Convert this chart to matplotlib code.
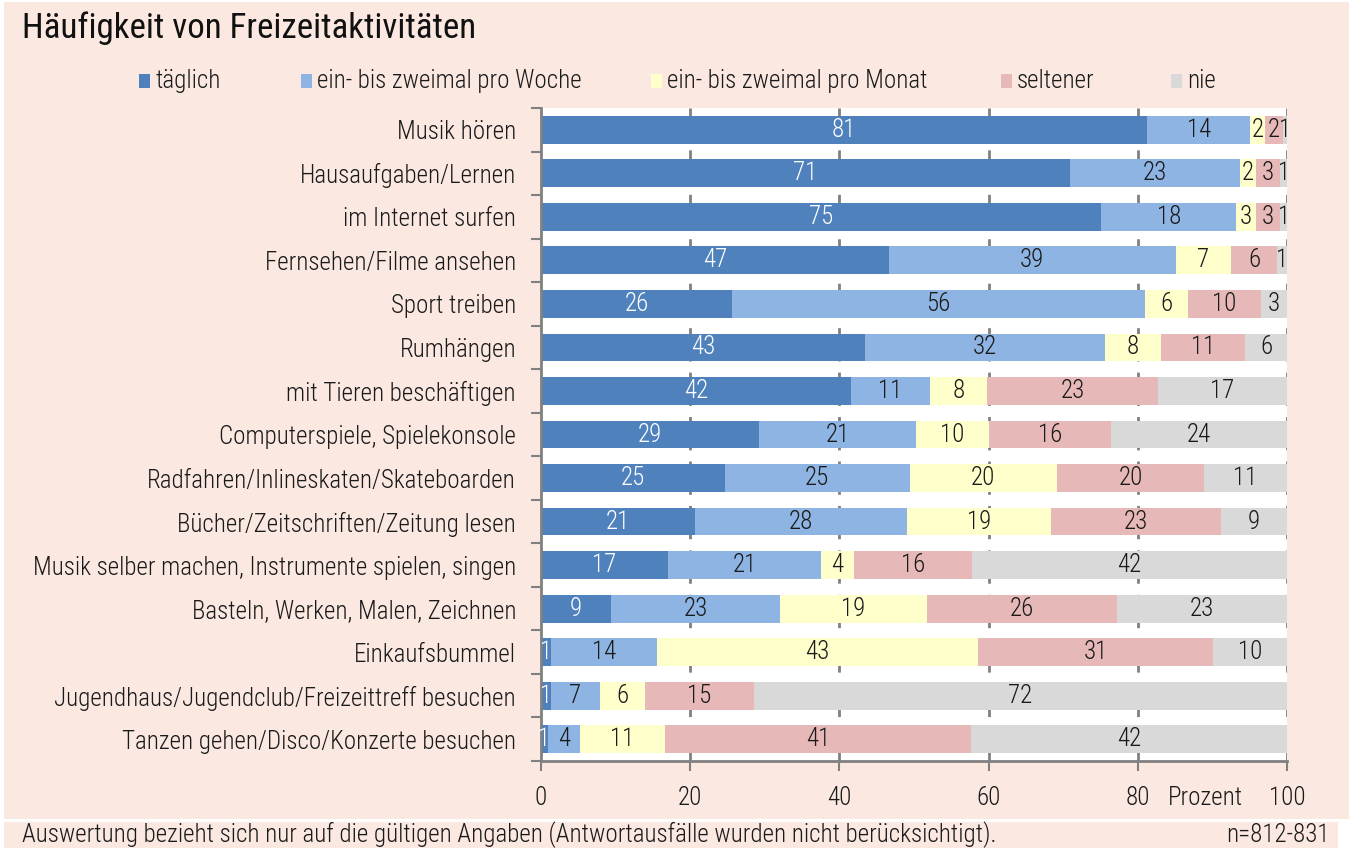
import matplotlib
matplotlib.use("Agg")
import matplotlib.pyplot as plt
from matplotlib.patches import Rectangle
import numpy as np

plt.rcParams['font.family'] = ['Roboto Condensed', 'Open Sans', 'DejaVu Sans']
plt.rcParams['font.weight'] = 'light'

categories = [
    "Musik hören", "Hausaufgaben/Lernen", "im Internet surfen", "Fernsehen/Filme ansehen",
    "Sport treiben", "Rumhängen", "mit Tieren beschäftigen", "Computerspiele, Spielekonsole",
    "Radfahren/Inlineskaten/Skateboarden", "Bücher/Zeitschriften/Zeitung lesen",
    "Musik selber machen, Instrumente spielen, singen", "Basteln, Werken, Malen, Zeichnen",
    "Einkaufsbummel", "Jugendhaus/Jugendclub/Freizeittreff besuchen",
    "Tanzen gehen/Disco/Konzerte besuchen",
]
series_names = ["täglich", "ein- bis zweimal pro Woche", "ein- bis zweimal pro Monat", "seltener", "nie"]

taeglich = [81.3, 70.9, 75.1, 46.6, 25.6, 43.4, 41.5, 29.2, 24.6, 20.7, 17.0, 9.4, 1.3, 1.3, 0.9]
woche    = [13.8, 22.8, 18.1, 38.5, 55.4, 32.2, 10.7, 21.1, 24.8, 28.4, 20.6, 22.7, 14.2, 6.6, 4.3]
monat    = [2.0, 2.1, 2.6, 7.4, 5.7, 7.5, 7.6, 9.7, 19.8, 19.2, 4.3, 19.6, 43.1, 6.0, 11.4]
seltener = [2.3, 3.3, 3.3, 6.2, 9.8, 11.3, 22.9, 16.4, 19.7, 22.9, 15.9, 25.5, 31.5, 14.6, 41.0]
nie      = [0.7, 0.9, 0.9, 1.3, 3.5, 5.6, 17.3, 23.6, 11.1, 8.8, 42.2, 22.8, 9.9, 71.5, 42.4]

labels_taeglich = [81, 71, 75, 47, 26, 43, 42, 29, 25, 21, 17, 9, 1, 1, 1]
labels_woche    = [14, 23, 18, 39, 56, 32, 11, 21, 25, 28, 21, 23, 14, 7, 4]
labels_monat    = [2, 2, 3, 7, 6, 8, 8, 10, 20, 19, 4, 19, 43, 6, 11]
labels_seltener = [2, 3, 3, 6, 10, 11, 23, 16, 20, 23, 16, 26, 31, 15, 41]
labels_nie      = [1, 1, 1, 1, 3, 6, 17, 24, 11, 9, 42, 23, 10, 72, 42]

colors = ["#4F81BD", "#8EB4E3", "#FFFFCC", "#E6B9B8", "#D9D9D9"]
text_colors = ["white", "#1a1a1a", "#1a1a1a", "#1a1a1a", "#1a1a1a"]
BG = "#FAE8E1"
FS = 18

W, H = 1349, 848
fig = plt.figure(figsize=(W / 100, H / 100), dpi=100)
fig.patch.set_facecolor("white")

def px_rect(x0, y0, x1, y1, color):
    fig.add_artist(Rectangle((x0 / W, 1 - y1 / H), (x1 - x0) / W, (y1 - y0) / H,
                             transform=fig.transFigure, facecolor=color, edgecolor="none", zorder=-10))

px_rect(4, 2, W, 819, BG)
px_rect(4, 822, 1338, H, BG)

ax = fig.add_axes([541 / W, 1 - 761 / H, (1287 - 541) / W, (761 - 108) / H])
ax.set_facecolor("white")

data = [taeglich, woche, monat, seltener, nie]
labs = [labels_taeglich, labels_woche, labels_monat, labels_seltener, labels_nie]
n = len(categories)
y = np.arange(n)
left = np.zeros(n)
for vals, lab, col, tcol, name in zip(data, labs, colors, text_colors, series_names):
    vals = np.array(vals)
    ax.barh(y, vals, left=left, height=0.64, color=col, edgecolor="none", zorder=2, label=name)
    for yi, (l, v, t) in enumerate(zip(left, vals, lab)):
        ax.text(l + v / 2, yi, str(t), ha="center", va="center", color=tcol, fontsize=FS, zorder=3)
    left = left + vals

ax.set_xlim(0, 100)
ax.set_ylim(n - 0.5, -0.5)
ax.set_xticks([0, 20, 40, 60, 80, 100])
ax.set_xticklabels(["0", "20", "40", "60", "80", "100"], fontsize=FS, color="#1a1a1a")
ax.set_yticks(y)
ax.set_yticklabels(categories, fontsize=FS, color="#1a1a1a")
ax.tick_params(axis="y", which="major", length=0, pad=18)
ax.set_yticks(np.arange(-0.5, n, 1.0), minor=True)
ax.tick_params(axis="y", which="minor", length=7, width=1.5, color="#808080", direction="out")
ax.tick_params(axis="x", which="major", length=7, width=1.5, color="#808080", direction="out", pad=11)
ax.annotate("Prozent", xy=(89.0, 0), xycoords=("data", "axes fraction"), xytext=(0, -18),
            textcoords="offset points", ha="center", va="top", fontsize=FS, color="#1a1a1a")

for xv in [20, 40, 60, 80, 100]:
    ax.axvline(xv, color="#808080", linestyle=(0, (4, 4)), linewidth=2, zorder=1)

for s in ["top", "right"]:
    ax.spines[s].set_visible(False)
for s in ["left", "bottom"]:
    ax.spines[s].set_color("#808080")
    ax.spines[s].set_linewidth(2)

# title
fig.text(22 / W, 1 - 38 / H, "Häufigkeit von Freizeitaktivitäten", fontsize=25.2, color="#111111",
         ha="left", va="baseline", fontweight="normal")

# legend (manual)
leg_x = [139, 301, 651, 1001, 1171]
for xp, col, name in zip(leg_x, colors, series_names):
    px_rect(xp, 74, xp + 11, 88, col)
    fig.text((xp + 16) / W, 1 - 81 / H, name, fontsize=FS, color="#1a1a1a", ha="left", va="center")

# footnote
fig.text(22 / W, 1 - 835 / H,
         "Auswertung bezieht sich nur auf die gültigen Angaben (Antwortausfälle wurden nicht berücksichtigt).",
         fontsize=FS, color="#1a1a1a", ha="left", va="center")
fig.text(1330 / W, 1 - 835 / H, "n=812-831", fontsize=FS, color="#1a1a1a", ha="right", va="center")

fig.savefig("out.png", dpi=100, facecolor=fig.get_facecolor())
